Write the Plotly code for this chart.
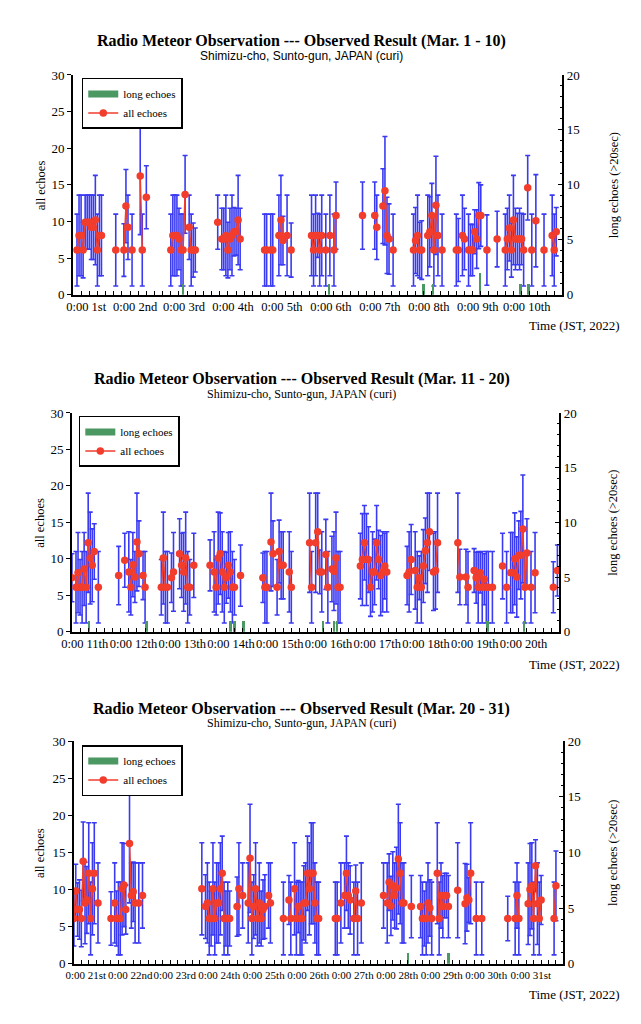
import plotly.graph_objects as go

# ---------------- DATA (hours from left edge of each panel's time axis) ----------------
# Panel 1 (Mar. 1 - 10): blocks of consecutive hourly values
p1_start = [2, 21, 25, 29, 33, 36, 48, 57, 71, 73, 94, 97, 101, 105, 107, 117, 124, 126, 128,
            142, 148, 152, 157, 167, 174, 181, 188, 191, 194, 203, 208, 212, 223, 225, 227, 231, 235]
p1_vals = [
    [6.1, 8.1, 8.1, 6.1, 9.9, 9.9, 9.9, 9.2, 9.2, 10.2, 6.1, 8.1, 8.1],
    [6.1], [6.1, 12.1, 9.2], [6.1], [16.2, 6.1], [13.3],
    [6.1, 8.1, 8.1, 8.1, 7.6, 6.1, 6.1, 13.7], [9.2, 6.1, 6.1, 6.1],
    [9.9], [7.6, 7.6, 8.1, 6.1, 7.6, 8.1, 8.6, 8.6, 10.2, 7.6],
    [6.1, 6.1], [6.1, 6.1], [8.1, 10.2, 7.4], [8.1], [6.1],
    [8.1, 6.1, 8.1, 8.1, 6.1, 8.1], [6.1], [8.1], [6.1, 10.8],
    [10.8], [10.8, 9.2], [12.1, 14.2, 8.1, 7.6], [6.1],
    [6.1, 7.4, 8.1, 6.1, 6.1], [8.1, 8.6, 10.8, 6.1, 12.2, 8.1], [6.1],
    [6.1, 6.1], [8.1, 7.6], [6.1, 6.1, 6.1, 8.6, 7.6, 10.8, 10.8], [6.1],
    [7.6], [6.1, 7.6, 9.1, 6.1, 10.2, 7.6, 7.6, 7.6, 7.6, 6.1], [14.6], [6.1], [10.1], [6.1],
    [8.1, 6.1, 8.6],
]
p1_errs = [
    [4.9, 5.5, 5.5, 3.8, 3.7, 3.7, 3.7, 4.4, 4.4, 6.1, 4.9, 5.5, 5.5],
    [4.9], [3.6, 5.0, 4.4], [4.9], [8.0, 4.9], [4.3],
    [4.9, 5.5, 5.5, 5.5, 4.2, 4.9, 4.9, 5.3], [4.4, 4.9, 3.7, 3.0],
    [3.7], [4.2, 4.2, 5.5, 3.8, 4.2, 5.5, 3.3, 3.2, 6.1, 4.2],
    [4.9, 4.9], [4.9, 4.9], [5.5, 6.1, 3.3], [5.5], [3.7],
    [5.5, 4.9, 5.5, 3.0, 4.9, 5.5], [4.9], [5.5], [4.9, 4.6],
    [4.6], [4.6, 4.4], [5.1, 7.4, 5.2, 4.8], [4.9],
    [4.9, 4.5, 5.5, 3.8, 4.0], [5.5, 4.8, 4.4, 4.9, 6.7, 5.5], [4.9],
    [4.9, 4.3], [5.5, 4.2], [4.9, 3.5, 3.5, 3.0, 4.0, 4.5, 4.2], [4.8],
    [3.8], [4.9, 4.2, 4.5, 3.7, 6.1, 4.2, 3.5, 4.2, 3.5, 4.9], [4.4], [4.9], [6.3], [4.9],
    [5.5, 4.9, 3.3],
]
p1_long_h = [54, 125.5, 172, 176.5, 199.5, 219.5, 223.5]
p1_long_v = [1, 1, 1, 1, 2, 1, 1]

# Panel 2 (Mar. 11 - 20)
p2_start = [0, 2, 13, 23, 26, 28, 35, 44, 49, 53, 60, 68, 70, 83, 94, 98, 101, 107, 117, 120,
            125, 128, 142, 165, 169, 178, 190, 194, 198, 207, 212, 214, 216, 226, 228, 237, 239]
p2_vals = [
    [7.4], [6.1, 8.1, 6.1, 6.1, 8.6, 6.1, 12.2, 10.1, 9.1, 11.0], [6.1],
    [7.7], [9.8], [8.2, 6.1, 9.2, 7.5, 12.3, 10.7], [7.7, 6.1],
    [6.1, 10.1, 6.1, 6.1], [7.4, 8.2], [10.7, 9.1, 8.2, 10.1, 6.1, 6.1], [9.1],
    [9.1], [8.2, 6.1, 10.1, 10.7, 8.2, 6.1, 7.4, 9.1, 8.2, 6.1, 6.1], [7.7],
    [7.4, 6.1, 6.1], [12.3, 10.7], [6.1, 11.0, 9.1, 9.1], [8.2, 6.1],
    [12.2, 6.1], [12.2, 13.7, 8.2, 8.2], [10.6, 6.1], [8.6, 8.3, 10.1, 6.1, 6.1],
    [9.0, 9.9, 12.2, 9.9, 9.9, 6.1, 8.2, 8.2, 12.2, 9.9, 7.7, 8.2, 9.0, 8.2],
    [7.7, 8.2, 9.9], [8.4, 6.1, 7.4, 6.1, 9.0, 11.1, 12.2, 13.7], [8.2, 8.4, 12.2],
    [12.2, 7.5], [7.5, 6.1], [8.4, 7.4, 6.1, 8.1, 6.1, 7.2, 6.1, 6.1], [6.1],
    [9.0], [6.1], [8.1, 8.1, 10.0, 7.5, 10.5, 10.5, 14.1, 6.1, 10.8], [6.1], [8.1],
    [6.1], [8.4],
]
p2_errs = [
    [3.3], [4.9, 5.5, 3.8, 4.9, 5.0, 4.9, 6.8, 6.3, 5.0, 3.8], [4.9],
    [4.0], [3.7], [5.5, 3.8, 4.4, 3.5, 6.7, 4.5], [3.3, 4.9],
    [3.8, 6.3, 4.9, 4.9], [3.4, 5.4], [4.8, 4.4, 5.4, 6.3, 4.9, 3.8], [4.4],
    [3.5], [5.5, 3.8, 6.3, 5.6, 5.5, 4.9, 3.5, 4.5, 5.5, 4.9, 3.8], [4.2],
    [3.4, 4.9, 4.9], [6.7, 4.5], [3.8, 4.3, 4.6, 4.6], [5.5, 4.9],
    [6.8, 4.9], [6.8, 5.3, 3.0, 5.5], [4.8, 4.9], [4.5, 5.4, 6.3, 4.9, 4.9],
    [4.5, 6.3, 5.1, 6.3, 4.5, 4.0, 5.5, 4.5, 5.1, 4.0, 5.5, 5.5, 4.5, 5.5],
    [4.0, 5.5, 4.8], [5.3, 4.9, 3.0, 4.9, 5.0, 4.5, 6.8, 5.3], [5.3, 5.3, 6.8],
    [6.8, 3.8], [3.8, 4.9], [3.0, 3.5, 4.9, 2.8, 4.9, 3.5, 4.9, 4.9], [4.9],
    [4.5], [4.9], [5.5, 5.5, 6.3, 5.5, 4.7, 6.0, 7.4, 4.9, 4.7], [4.9], [5.5],
    [3.5], [3.5],
]
p2_long_h = [8.4, 36.6, 78, 80, 84.3, 123.6, 129, 130.5, 204.5, 222.5]
p2_long_v = [1, 1, 1, 1, 1, 1, 1, 1, 1, 1]

# Panel 3 (Mar. 20 - 31)
p3_start = [0, 13, 20, 22, 30, 35, 37, 69, 71, 88, 91, 94, 105, 113, 116, 119, 141, 144, 146,
            151, 155, 167, 169, 182, 187, 196, 207, 211, 217, 220, 234, 238, 245, 259]
p3_vals = [
    [6.1, 9.8, 7.3, 7.3, 6.1, 13.8, 8.2, 8.6, 12.2, 6.1, 10.1, 12.2], [8.2],
    [6.1], [8.2, 6.1, 6.1, 6.1, 10.1, 10.6, 7.3], [16.2, 9.2, 9.7, 8.2], [8.2], [9.2],
    [10.1], [7.7, 8.2, 6.1, 6.1, 10.1, 6.1, 8.2, 8.2, 10.1, 12.2, 6.1, 6.1, 6.1, 6.1],
    [7.7, 10.1], [9.2], [8.2, 14.2, 6.1, 7.7, 10.1, 6.1, 8.2, 6.1, 7.3, 7.7], [9.2, 8.2],
    [6.1], [8.6, 6.1], [10.1, 6.1, 7.7, 6.1, 6.1, 8.2, 8.2, 12.2, 10.1, 12.2, 12.2, 8.2, 6.1, 6.1],
    [6.1, 6.1], [8.2], [9.2, 12.2, 9.2, 8.6], [6.1, 9.8, 6.1], [8.2],
    [9.2], [8.2, 11.0, 7.8, 10.5, 9.2, 10.2, 14.1, 12.2, 8.2, 8.2], [7.7],
    [7.7, 6.1, 6.1, 6.1, 8.2, 7.5, 6.1], [12.2, 6.1, 9.2, 7.7, 9.2, 9.2, 7.7],
    [9.9], [8.1, 8.9, 8.6, 12.2], [6.1], [6.1],
    [6.1], [6.1, 9.2, 6.1], [8.1, 10.0, 10.5, 6.1, 13.2, 8.1, 6.1, 8.6], [6.1, 10.5],
]
p3_errs = [
    [3.7, 3.6, 3.6, 4.0, 3.8, 5.3, 5.5, 4.5, 6.8, 4.9, 6.2, 6.8], [5.4],
    [3.6], [5.4, 3.7, 4.9, 4.9, 6.2, 5.6, 3.3], [8.0, 4.4, 4.0, 5.4], [5.4], [4.4],
    [6.2], [4.3, 5.4, 4.9, 3.7, 6.2, 4.9, 5.4, 5.4, 6.2, 5.0, 4.9, 3.7, 4.9, 3.7],
    [4.0, 6.2], [4.4], [5.4, 7.3, 4.9, 4.3, 6.2, 3.7, 5.4, 3.7, 4.0, 4.3], [4.4, 5.4],
    [4.9], [3.3, 4.9], [6.2, 4.9, 3.5, 4.9, 4.9, 5.0, 5.4, 5.0, 6.2, 6.8, 6.8, 5.4, 4.9, 4.9],
    [4.9, 4.9], [5.4], [4.4, 5.0, 4.4, 4.6], [4.9, 3.5, 4.9], [5.4],
    [4.4], [5.4, 3.8, 4.0, 4.6, 4.4, 5.5, 7.4, 6.8, 5.4, 5.4], [4.2],
    [4.2, 4.9, 3.7, 4.9, 5.4, 3.8, 4.9], [6.8, 4.9, 4.4, 4.2, 3.0, 3.0, 4.2],
    [6.4], [5.4, 4.5, 3.0, 6.8], [4.9], [4.9],
    [3.0], [4.9, 4.4, 4.9], [5.5, 6.2, 5.8, 4.9, 3.5, 5.5, 4.9, 3.3], [4.9, 4.7],
]
p3_long_h = [180, 202]
p3_long_v = [1, 1]

p1_ticks = ["0:00 1st", "0:00 2nd", "0:00 3rd", "0:00 4th", "0:00 5th",
            "0:00 6th", "0:00 7th", "0:00 8th", "0:00 9th", "0:00 10th"]
p2_ticks = ["0:00 11th", "0:00 12th", "0:00 13th", "0:00 14th", "0:00 15th",
            "0:00 16th", "0:00 17th", "0:00 18th", "0:00 19th", "0:00 20th"]
p3_ticks = ["0:00 21st", "0:00 22nd", "0:00 23rd", "0:00 24th", "0:00 25th", "0:00 26th",
            "0:00 27th", "0:00 28th", "0:00 29th", "0:00 30th", "0:00 31st"]

titles = ["Radio Meteor Observation --- Observed Result (Mar. 1 - 10)",
          "Radio Meteor Observation --- Observed Result (Mar. 11 - 20)",
          "Radio Meteor Observation --- Observed Result (Mar. 20 - 31)"]
subtitle = "Shimizu-cho, Sunto-gun, JAPAN (curi)"

# ---------------- STYLE ----------------
W, H = 641, 1024
SERIF = "Liberation Serif, Times New Roman, serif"
RED = "#f23c2c"
BLUE = "#3a3af2"
GREEN = "#4b9862"

panels = [
    dict(start=p1_start, vals=p1_vals, errs=p1_errs, lh=p1_long_h, lv=p1_long_v, ticks=p1_ticks,
         span=240, tick0=6.5, px=(63, 561), py=(69, 292), ty=34, sy=50, timey=323, tfs=12.5,
         sub_font="Liberation Sans Narrow, Arial Narrow, Liberation Sans, sans-serif", leg=(72, 72)),
    dict(start=p2_start, vals=p2_vals, errs=p2_errs, lh=p2_long_h, lv=p2_long_v, ticks=p2_ticks,
         span=240, tick0=6.3, px=(62, 558), py=(412, 634), ty=378, sy=393, timey=667, tfs=12.5,
         sub_font=SERIF, leg=(69, 415)),
    dict(start=p3_start, vals=p3_vals, errs=p3_errs, lh=p3_long_h, lv=p3_long_v, ticks=p3_ticks,
         span=264, tick0=6.4, px=(64, 562), py=(745, 971), ty=712, sy=727, timey=1002, tfs=11,
         sub_font=SERIF, leg=(72, 749)),
]


def build(starts, vals, errs):
    xs, ys, es = [], [], []
    for s, vs, er in zip(starts, vals, errs):
        for i, (v, e) in enumerate(zip(vs, er)):
            xs.append(s + i)
            ys.append(v)
            es.append(e)
        xs.append(None)
        ys.append(None)
        es.append(0)
    return xs, ys, es


fig = go.Figure()
layout = dict(width=W, height=H, margin=dict(l=0, r=0, t=0, b=0),
              paper_bgcolor="white", plot_bgcolor="white", showlegend=True,
              font=dict(family=SERIF, color="black", size=12), bargap=0)
annotations = []

for k, p in enumerate(panels):
    n = k + 1
    sfx = "" if n == 1 else str(n)
    xa, ya, ya2 = "x" + sfx, "y" + sfx, "y" + str(n + 3)
    leg = "legend" + sfx

    xs, ys, es = build(p["start"], p["vals"], p["errs"])

    # legend proxy for the green bars
    fig.add_trace(go.Scatter(x=[None], y=[None], mode="lines", name="long echoes",
                             line=dict(color=GREEN, width=7), xaxis=xa, yaxis=ya, legend=leg))
    fig.add_trace(go.Bar(x=p["lh"], y=p["lv"], width=1.3, marker=dict(color=GREEN, line=dict(width=0)),
                         xaxis=xa, yaxis=ya2, showlegend=False, name="long echoes"))
    fig.add_trace(go.Scatter(x=xs, y=ys, mode="lines+markers", name="all echoes",
                             line=dict(color=RED, width=1.5),
                             marker=dict(color=RED, size=7.5, line=dict(width=0)),
                             error_y=dict(type="data", array=es, visible=True, color=BLUE,
                                          thickness=1.6, width=2.5),
                             connectgaps=False, xaxis=xa, yaxis=ya, legend=leg))

    x0, x1 = p["px"]
    ytop, ybot = p["py"]
    xdom = [x0 / W, x1 / W]
    ydom = [1 - ybot / H, 1 - ytop / H]
    nt = len(p["ticks"])
    layout["xaxis" + sfx] = dict(
        domain=xdom, anchor=ya, range=[0, p["span"]], showline=True, linecolor="black", linewidth=1.5,
        tickmode="array", tickvals=[p["tick0"] + 24 * i for i in range(nt)], ticktext=p["ticks"],
        ticks="", tickangle=0, tickfont=dict(family=SERIF, size=p["tfs"]),
        showgrid=False, zeroline=False,
        minor=dict(tickmode="linear", tick0=0, dtick=4, ticks="inside", ticklen=4,
                   tickcolor="black", tickwidth=1, showgrid=False))
    layout["yaxis" + sfx] = dict(
        domain=ydom, anchor=xa, range=[0, 30], tickmode="linear", tick0=0, dtick=5,
        ticks="outside", ticklen=4, tickcolor="black", showline=True, linecolor="black",
        linewidth=1.5, showgrid=False, zeroline=False, tickfont=dict(family=SERIF, size=13))
    layout["yaxis" + str(n + 3)] = dict(
        overlaying=ya, anchor=xa, side="right", range=[0, 20], tickmode="linear", tick0=0, dtick=5,
        ticks="inside", ticklen=5, tickcolor="black", showline=True, linecolor="black", linewidth=1.5,
        showgrid=False, zeroline=False, tickfont=dict(family=SERIF, size=13),
        minor=dict(tickmode="linear", tick0=0, dtick=1, ticks="inside", ticklen=3,
                   tickcolor="black", showgrid=False))
    lx, ly = p["leg"]
    layout[leg] = dict(x=lx / W, y=1 - ly / H, xanchor="left", yanchor="top",
                       bordercolor="black", borderwidth=1.5, bgcolor="white",
                       font=dict(family=SERIF, size=11), traceorder="normal",
                       itemwidth=30, tracegroupgap=0)

    ymid = 1 - (ytop + ybot) / 2 / H
    annotations += [
        dict(text="<b>" + titles[k] + "</b>", x=296 / W, y=1 - p["ty"] / H, xref="paper", yref="paper",
             xanchor="center", yanchor="middle", showarrow=False, font=dict(family=SERIF, size=16)),
        dict(text=subtitle, x=296 / W, y=1 - p["sy"] / H, xref="paper", yref="paper",
             xanchor="center", yanchor="middle", showarrow=False, font=dict(family=p["sub_font"], size=12)),
        dict(text="all echoes", x=30 / W, y=ymid, xref="paper", yref="paper", textangle=-90,
             xanchor="center", yanchor="middle", showarrow=False, font=dict(family=SERIF, size=12.5)),
        dict(text="long echoes (>20sec)", x=613 / W, y=ymid, xref="paper", yref="paper", textangle=-90,
             xanchor="center", yanchor="middle", showarrow=False, font=dict(family=SERIF, size=12.5)),
        dict(text="Time (JST, 2022)", x=622 / W, y=1 - p["timey"] / H, xref="paper", yref="paper",
             xanchor="right", yanchor="middle", showarrow=False, font=dict(family=SERIF, size=13)),
    ]

layout["annotations"] = annotations
fig.update_layout(**layout)
fig.write_html("out.html", config={"displayModeBar": False},
               post_script="document.body.style.margin='0px';")
